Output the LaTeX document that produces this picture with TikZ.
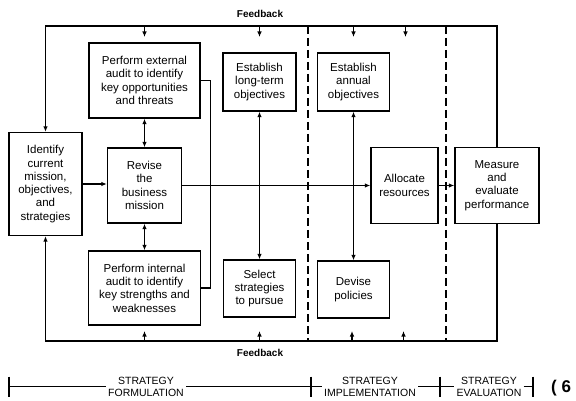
\documentclass[tikz,border=0pt]{standalone}
\usepackage{fontspec}
\setmainfont{Liberation Sans}
\usetikzlibrary{arrows.meta}
\begin{document}
\begin{tikzpicture}[x=1pt,y=-1pt,
  box/.style={draw,line width=1.3pt,align=center,inner sep=1pt,
    font=\fontsize{11.5}{13.3}\selectfont},
  ln/.style={line width=1.3pt},
  tip/.style={-{Latex[length=5.5pt,width=4.5pt]}},
  dtip/.style={{Latex[length=5.5pt,width=4.5pt]}-{Latex[length=5.5pt,width=4.5pt]}},
  dline/.style={line width=1.1pt,dash pattern=on 8pt off 4pt},
  fb/.style={font=\bfseries\fontsize{10}{12}\selectfont,inner sep=1pt},
  phase/.style={align=center,inner sep=2pt,font=\fontsize{10.5}{12}\selectfont}]
\useasboundingbox (0,0) rectangle (576,401);

% boxes
\node[box,minimum width=111pt,minimum height=75pt] (ext) at (144.5,80.5)
  {Perform external\\audit to identify\\key opportunities\\and threats};
\node[box,minimum width=73pt,minimum height=58pt] (lto) at (259.5,82)
  {Establish\\long-term\\objectives};
\node[box,minimum width=72pt,minimum height=58pt] (ann) at (353.5,82)
  {Establish\\annual\\objectives};
\node[box,minimum width=73pt,minimum height=103pt] (idn) at (45.5,184)
  {Identify\\current\\mission,\\objectives,\\and\\strategies};
\node[box,minimum width=74pt,minimum height=75pt] (rev) at (144.5,185.5)
  {Revise\\the\\business\\mission};
\node[box,minimum width=67pt,minimum height=76pt] (alloc) at (404.5,185.5)
  {Allocate\\resources};
\node[box,minimum width=84pt,minimum height=76pt] (meas) at (497,185.5)
  {Measure\\and\\evaluate\\performance};
\node[box,minimum width=112pt,minimum height=74pt] (int) at (144.5,288)
  {Perform internal\\audit to identify\\key strengths and\\weaknesses};
\node[box,minimum width=72pt,minimum height=57pt] (sel) at (259.5,288.5)
  {Select\\strategies\\to pursue};
\node[box,minimum width=72pt,minimum height=57pt] (dev) at (353.5,289.5)
  {Devise\\policies};

% feedback loops
\coordinate (tl) at (45.5,26);
\coordinate (bl) at (45.5,341);
\draw[ln,tip] (meas.north) |- (tl) -- (idn.north);
\draw[ln,tip] (meas.south) |- (bl) -- (idn.south);
\node[fb] (fbt) at (260,14) {Feedback};
\node[fb] (fbb) at (260,353) {Feedback};

% small feedback arrows
\coordinate (ft1) at (144.5,26);
\coordinate (ft2) at (259.5,26);
\coordinate (ft3) at (353.5,26);
\coordinate (ft4) at (405.5,26);
\coordinate (fb1) at (144.5,341);
\coordinate (fb2) at (259.5,341);
\coordinate (fb3) at (352,341);
\coordinate (fb4) at (403.5,341);
\foreach \c in {ft1,ft2,ft3,ft4} \draw[ln,tip] (\c) -- ++(0,11);
\foreach \c in {fb1,fb2,fb3,fb4} \draw[ln,tip] (\c) -- ++(0,-10);

% dashed phase separators
\coordinate (d1t) at (308,26);
\coordinate (d1b) at (308,341);
\coordinate (d2t) at (446,26);
\coordinate (d2b) at (446,341);
\draw[dline] (d1t) -- (d1b);
\draw[dline] (d2t) -- (d2b);

% connections
\draw[ln,tip] (idn.east) -- (idn.east -| rev.west);
\draw[ln,tip] (rev) -- (alloc);
\draw[ln,tip] (alloc) -- (meas);
\draw[ln,dtip] (ext) -- (rev);
\draw[ln,dtip] (rev) -- (int);
\draw[ln,dtip] (lto) -- (sel);
\draw[ln,dtip] (ann) -- (dev);
\draw[ln] (ext.east) -- ++(10,0) |- (int.east);

% phase scale
\coordinate (k1) at (9,386.5);
\coordinate (k2) at (311,386.5);
\coordinate (k3) at (440,386.5);
\coordinate (k4) at (533,386.5);
\node[phase] (sf) at (146,386.5) {STRATEGY\\FORMULATION};
\node[phase] (si) at (370,386.5) {STRATEGY\\IMPLEMENTATION};
\node[phase] (se) at (489,386.5) {STRATEGY\\EVALUATION};
\draw[ln] (k1) -- (sf) -- (k2) -- (si) -- (k3) -- (se) -- (k4);
\foreach \k in {k1,k2,k3,k4} \draw[ln] (\k) ++(0,-10) -- ++(0,20);
\node[anchor=west,inner sep=0pt,font=\bfseries\fontsize{17}{20}\selectfont] (fig) at (551,388) {( 6};
\end{tikzpicture}
\end{document}
